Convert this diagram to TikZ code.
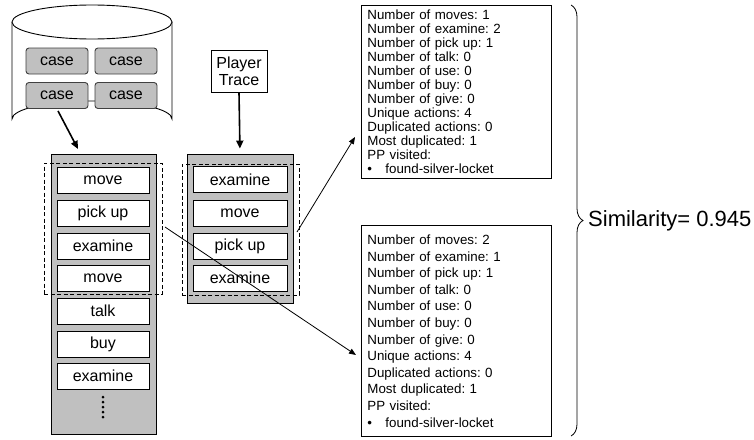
\documentclass[tikz,border=0pt]{standalone}
\usepackage{fontspec}
\setmainfont{Liberation Sans}
\usetikzlibrary{arrows.meta,decorations.pathreplacing,calc}
\frenchspacing

\definecolor{panelgray}{HTML}{C0C0C0}
\definecolor{edgegray}{HTML}{404040}

\tikzset{
  panel/.style={draw=black, fill=panelgray, line width=0.9pt},
  act/.style={draw=black, fill=white, line width=0.9pt, minimum height=26, inner sep=0pt,
              font=\fontsize{16}{18}\selectfont},
  casebox/.style={draw=edgegray, fill=panelgray, rounded corners=3, line width=0.9pt,
                  minimum width=62, minimum height=26, inner sep=0pt,
                  font=\fontsize{16}{18}\selectfont},
  window/.style={draw=black, dashed, dash pattern=on 4pt off 2.5pt, line width=0.9pt},
  bigarrow/.style={line width=1.6pt, -{Triangle[length=8pt,width=7pt]}},
  thinarrow/.style={line width=0.8pt, -{Triangle[length=7pt,width=5.5pt]}},
  statbox/.style={draw=black, line width=0.9pt, anchor=north west, inner xsep=6pt,
                  align=left, text width=178pt, minimum width=190pt},
}

\begin{document}
\begin{tikzpicture}[x=1pt,y=-1pt]
\useasboundingbox[fill=white] (0,0) rectangle (754,439);

% case base drawn as a cylinder
\draw[line width=0.9pt, fill=white] (12,22) -- (12,119) arc[start angle=180, end angle=360, x radius=80, y radius=18] -- (172,22);
\draw[line width=0.9pt, fill=white] (92,22) ellipse[x radius=80, y radius=17];
\node[casebox] (c1) at (57,61) {case};
\node[casebox] (c2) at (126,61) {case};
\node[casebox] (c3) at (57,95.5) {case};
\node[casebox] (c4) at (126,95.5) {case};

% stored case trace
\node[panel, minimum width=105, minimum height=280, inner sep=0pt] (p1) at (103.5,294) {};
\foreach \y/\t [count=\i] in {180/move, 213/pick up, 246/examine, 278/move, 311/talk, 344/buy, 376/examine}
  \node[act, minimum width=92] (a\i) at (103,\y) {\t};
\foreach \y in {397,402,407,412,417}
  \fill (103,\y) circle[radius=1.5];
\node[window, minimum width=118, minimum height=131, inner sep=0pt] (w1) at (103,228.5) {};

% player trace
\node[draw=black, line width=0.9pt, minimum width=56, minimum height=42, inner sep=0pt, align=center,
      font=\fontsize{16}{17}\selectfont] (pt) at (239,71) {Player\\Trace};
\node[panel, minimum width=106, minimum height=149, inner sep=0pt] (p2) at (240,228.5) {};
\foreach \y/\t [count=\i] in {179.5/examine, 213/move, 246/pick up, 278/examine}
  \node[act, minimum width=94] (b\i) at (240,\y) {\t};
\node[window, minimum width=117, minimum height=131, inner sep=0pt] (w2) at (240.5,229.5) {};

% feature summaries
\node[statbox, minimum height=173, font=\fontsize{13.33}{14}\selectfont] (s1) at (361,5) {%
Number of moves: 1\\
Number of examine: 2\\
Number of pick up: 1\\
Number of talk: 0\\
Number of use: 0\\
Number of buy: 0\\
Number of give: 0\\
Unique actions: 4\\
Duplicated actions: 0\\
Most duplicated: 1\\
PP visited:\\
\makebox[18pt][l]{•}found-silver-locket};
\node[statbox, minimum height=211, font=\fontsize{13.33}{16.6}\selectfont] (s2) at (361,225) {%
Number of moves: 2\\
Number of examine: 1\\
Number of pick up: 1\\
Number of talk: 0\\
Number of use: 0\\
Number of buy: 0\\
Number of give: 0\\
Unique actions: 4\\
Duplicated actions: 0\\
Most duplicated: 1\\
PP visited:\\
\makebox[18pt][l]{•}found-silver-locket};

% connectors
\coordinate (caseend) at (78,149);
\draw[bigarrow] (c3.south) ++(1,2) -- (caseend);
\draw[bigarrow, shorten >=5pt] (pt.south) -- (p2.north);
\coordinate (src1) at (297,232);
\coordinate (tip1) at (355,137);
\draw[thinarrow] (src1) -- (tip1);
\coordinate (src2) at (165,227);
\coordinate (tip2) at (356,355);
\draw[thinarrow] (src2) -- (tip2);

% similarity brace
\draw[line width=0.8pt, decorate, decoration={brace, amplitude=12pt}] (571,5) -- (571,436);
\node[anchor=west, inner sep=0pt, font=\fontsize{22}{24}\selectfont] (sim) at (588,221) {Similarity= 0.945};
\end{tikzpicture}
\end{document}
